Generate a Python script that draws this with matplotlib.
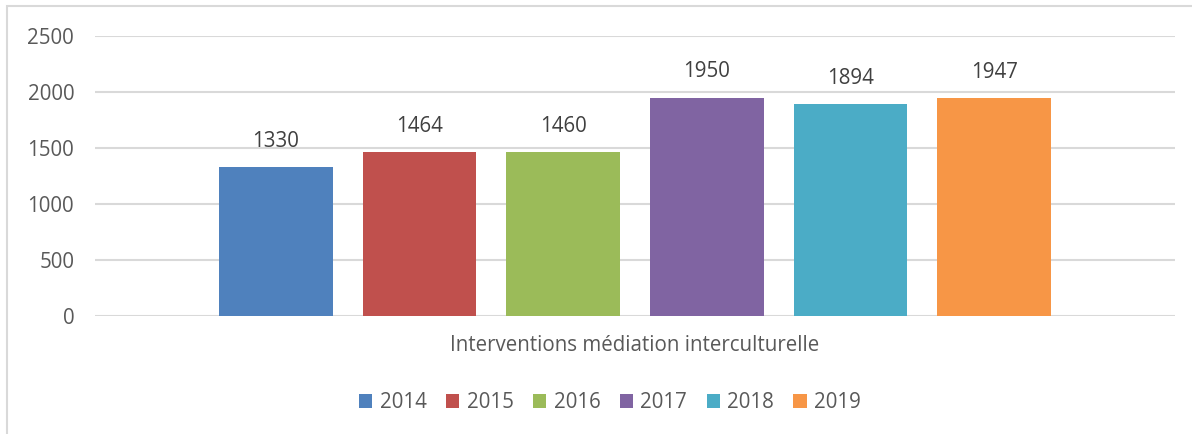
import matplotlib
matplotlib.use("Agg")
import matplotlib.pyplot as plt
from matplotlib.patches import Patch, Rectangle

years = ["2014", "2015", "2016", "2017", "2018", "2019"]
values = [1330, 1464, 1460, 1950, 1894, 1947]
colors = ["#4f81bd", "#c0504d", "#9bbb59", "#8064a2", "#4bacc6", "#f79646"]
category = "Interventions médiation interculturelle"
yticks = [0, 500, 1000, 1500, 2000, 2500]

plt.rcParams['font.family'] = ['Open Sans', 'DejaVu Sans']
txt = "#595959"
fs = 14.8
W, H = 1192, 434
fig = plt.figure(figsize=(W/100, H/100), dpi=100)
ax = fig.add_axes([95/W, (H-316)/H, 1080/W, (316-36)/H])

xs = list(range(len(years)))
bars = ax.bar(xs, values, width=0.793, color=colors, zorder=3)
for x, v in zip(xs, values):
    ax.annotate(str(v), (x, v), xytext=(0, 14.5), textcoords="offset points",
                ha="center", va="baseline", fontsize=fs, color="#404040")

ax.set_xlim(-1.259, len(years) - 1 + 1.259)
ax.set_ylim(0, 2500)
ax.set_yticks(yticks)
ax.set_yticklabels([str(t) for t in yticks])
ax.grid(axis="y", color="#d9d9d9", linewidth=1.5, zorder=0)
ax.set_xticks([(len(years) - 1) / 2])
ax.set_xticklabels([category])
ax.tick_params(axis="both", length=0, labelsize=fs, labelcolor=txt)
ax.tick_params(axis="y", pad=15)
ax.tick_params(axis="x", pad=14)
for s in ax.spines.values():
    s.set_visible(False)

handles = [Patch(facecolor=c, edgecolor="none") for c in colors]
fig.legend(handles, years, loc="center", bbox_to_anchor=(610/W, 1-403/H), ncol=6,
           frameon=False, fontsize=fs, labelcolor=txt, handlelength=0.65,
           handleheight=0.65, handletextpad=0.35, columnspacing=0.95)

fig.add_artist(Rectangle((7/W, -0.05), 1.1, 1 - 6/H + 0.05, transform=fig.transFigure,
                         fill=False, edgecolor="#d9d9d9", linewidth=1.5))

fig.savefig("out.png", dpi=100)
